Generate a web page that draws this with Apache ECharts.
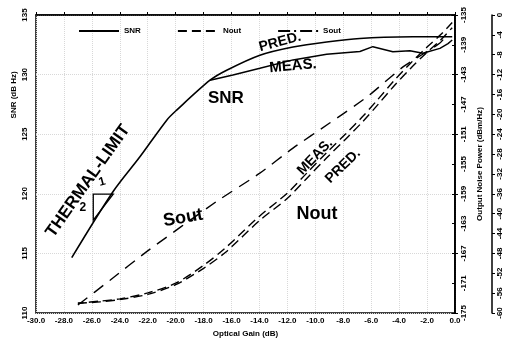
<!DOCTYPE html>
<html><head><meta charset="utf-8">
<script src="https://cdn.jsdelivr.net/npm/echarts@6/dist/echarts.min.js"></script>
<style>html,body{margin:0;padding:0;background:#fff}#c{width:506px;height:345px}</style>
</head><body><div id="c"></div>
<script>
// ---- data ----
const snrPredGain = [-27.44, -24.49, -22.56, -20.64, -19.93, -17.54, -16.35, -13.97, -11.6, -9.19, -6.81, -3.01, -0.58, -0.2];
const snrPredVal  = [114.64, 120.17, 123.1, 126.18, 127.02, 129.53, 130.37, 131.63, 132.32, 132.74, 133.03, 133.17, 133.18, 133.18];

const snrMeasGain = [-17.54, -15.9, -13.97, -11.6, -9.19, -6.81, -5.88, -4.45, -3.23, -2.3, -1.08, -0.5, -0.2];
const snrMeasVal  = [129.53, 129.97, 130.53, 131.23, 131.71, 131.94, 132.34, 131.92, 132.0, 131.79, 132.2, 132.6, 132.9];

const noutGain     = [-27.0, -25.4, -24.0, -22.0, -20.0, -18.0, -16.4, -14.0, -12.0, -10.6, -9.2, -7.8, -6.6, -5.6, -4.4, -3.2, -2.0, -1.0, -0.2];
const noutPredVal  = [-173.7, -173.5, -173.2, -172.5, -171.2, -169.0, -166.8, -162.6, -159.6, -156.9, -154.2, -151.6, -149.3, -147.2, -144.6, -142.2, -140.0, -138.3, -136.7];
const noutMeasVal  = [-173.7, -173.4, -173.1, -172.3, -171.0, -168.6, -166.2, -162.0, -158.9, -156.2, -153.5, -150.9, -148.6, -146.5, -143.9, -141.5, -139.3, -137.6, -136.0];

const soutGain = [-27.0, -24.7, -22.1, -17.1, -14.0, -11.6, -9.0, -6.3, -3.7, -1.1, -0.5];
const soutVal  = [-58.4, -53.4, -47.7, -37.6, -31.9, -26.8, -21.8, -16.5, -10.4, -5.7, -3.7];

const legendNames = ['SNR', 'Nout', 'Sout'];
const xRange = [-30, 0, 2];
const snrRange = [110, 135, 5];
const noiseRange = [-175, -135, 4];
const soutRange = [-60, 0, 4];

// ---- chart ----
const zip = (a, b) => a.map((v, i) => [v, b[i]]);
const lblFont = {fontFamily: 'Liberation Sans', fontWeight: 'bold', fontSize: 8, color: '#000'};
const axLine = {show: true, lineStyle: {color: '#000', width: 1.5}};

const chart = echarts.init(document.getElementById('c'), null, {renderer: 'canvas'});
const option = {
  animation: false,
  backgroundColor: '#fff',
  grid: {left: 36, right: 51, top: 15, bottom: 32, show: true, borderColor: '#000', borderWidth: 1.5},
  legend: {
    left: 73, top: 22, itemWidth: 40, itemHeight: 10, itemGap: 36,
    itemStyle: {opacity: 0},
    textStyle: {fontFamily: 'Liberation Sans', fontWeight: 'bold', fontSize: 8, color: '#000'},
    data: [
      {name: legendNames[0]},
      {name: legendNames[1]},
      {name: legendNames[2], lineStyle: {type: [12, 4, 2, 4]}}
    ]
  },
  xAxis: {
    type: 'value', min: xRange[0], max: xRange[1], interval: xRange[2],
    name: 'Optical Gain (dB)', nameLocation: 'middle', nameGap: 16,
    nameTextStyle: lblFont,
    axisLine: axLine, axisTick: {inside: true, length: 3, lineStyle: {color: '#000'}},
    axisLabel: Object.assign({margin: 4, formatter: v => v.toFixed(1)}, lblFont),
    splitLine: {show: true, lineStyle: {type: 'dotted', color: '#d8d8d8'}}
  },
  yAxis: [
    {
      type: 'value', position: 'left', min: snrRange[0], max: snrRange[1], interval: snrRange[2],
      axisLine: axLine, axisTick: {inside: true, length: 3, lineStyle: {color: '#000'}},
      axisLabel: Object.assign({rotate: 90, margin: 7}, lblFont),
      splitLine: {show: true, lineStyle: {type: 'dotted', color: '#d8d8d8'}}
    },
    {
      type: 'value', position: 'right', min: noiseRange[0], max: noiseRange[1], interval: noiseRange[2],
      name: 'Output Noise Power (dBm/Hz)', nameLocation: 'middle', nameGap: 19, nameRotate: 90,
      nameTextStyle: lblFont,
      axisLine: axLine, axisTick: {inside: true, length: 3, lineStyle: {color: '#000'}},
      axisLabel: Object.assign({rotate: 90, margin: 5}, lblFont),
      splitLine: {show: false}
    },
    {
      type: 'value', position: 'right', offset: 37, min: soutRange[0], max: soutRange[1], interval: soutRange[2],
      axisLine: axLine, axisTick: {inside: false, length: 3, lineStyle: {color: '#000'}},
      axisLabel: Object.assign({rotate: 90, margin: 4}, lblFont),
      splitLine: {show: false}
    }
  ],
  series: [
    {name: 'SNR', type: 'line', yAxisIndex: 0, data: zip(snrPredGain, snrPredVal), symbol: 'none', smooth: 0.3,
     lineStyle: {color: '#000', width: 1.6}, itemStyle: {color: '#000'}},
    {name: 'SNR', type: 'line', yAxisIndex: 0, data: zip(snrMeasGain, snrMeasVal), symbol: 'none',
     lineStyle: {color: '#000', width: 1.4}, itemStyle: {color: '#000'}},
    {name: 'Nout', type: 'line', yAxisIndex: 1, data: zip(noutGain, noutPredVal), symbol: 'none', smooth: 0.3,
     lineStyle: {color: '#000', width: 1.4, type: [9, 5]}, itemStyle: {color: '#000'}},
    {name: 'Nout', type: 'line', yAxisIndex: 1, data: zip(noutGain, noutMeasVal), symbol: 'none', smooth: 0.3,
     lineStyle: {color: '#000', width: 1.4, type: [9, 5], dashOffset: 3}, itemStyle: {color: '#000'}},
    {name: 'Sout', type: 'line', yAxisIndex: 2, data: zip(soutGain, soutVal), symbol: 'none', smooth: 0.2,
     lineStyle: {color: '#000', width: 1.4, type: [12, 8]}, itemStyle: {color: '#000'}}
  ]
};
chart.setOption(option);

// ---- hand-written annotations, placed in data space (gain, SNR) ----
const notes = [
  {t: 'THERMAL-LIMIT', at: [-26.28, 121.07], rot: 54.8, size: 17},
  {t: 'PRED.', at: [-12.53, 132.73], rot: 15, size: 14},
  {t: 'MEAS.', at: [-11.6, 130.72], rot: 5, size: 15},
  {t: 'SNR', at: [-16.4, 128.04], rot: 0, size: 17},
  {t: 'Sout', at: [-19.47, 117.97], rot: 10, size: 18},
  {t: 'Nout', at: [-9.88, 118.3], rot: 0, size: 18},
  {t: 'MEAS.', at: [-10.02, 123.1], rot: 46, size: 14},
  {t: 'PRED.', at: [-8.02, 122.33], rot: 44, size: 14},
  {t: '2', at: [-26.64, 118.8], rot: 0, size: 12},
  {t: '1', at: [-25.27, 121.0], rot: 15, size: 12}
];
const tri = [[-25.9, 119.98], [-24.47, 119.98], [-25.9, 117.8]];
const toPx = p => chart.convertToPixel({xAxisIndex: 0, yAxisIndex: 0}, p);
const graphics = notes.map(n => {
  const p = toPx(n.at);
  return {type: 'text', x: p[0], y: p[1], rotation: n.rot * Math.PI / 180,
    style: {text: n.t, fill: '#000', font: 'bold ' + n.size + 'px "Liberation Sans Narrow", "Liberation Sans", sans-serif',
      align: 'center', verticalAlign: 'middle'}};
});
graphics.push({type: 'polygon', shape: {points: tri.map(toPx)}, style: {fill: 'none', stroke: '#000', lineWidth: 1.3}});
const nameY = chart.convertToPixel({yAxisIndex: 0}, 128.3);
graphics.push({type: 'text', x: 14, y: nameY, rotation: Math.PI / 2,
  style: {text: 'SNR (dB Hz)', fill: '#000', font: 'bold 8px "Liberation Sans"', align: 'center', verticalAlign: 'middle'}});
chart.setOption({graphic: graphics});
</script>
</body></html>
